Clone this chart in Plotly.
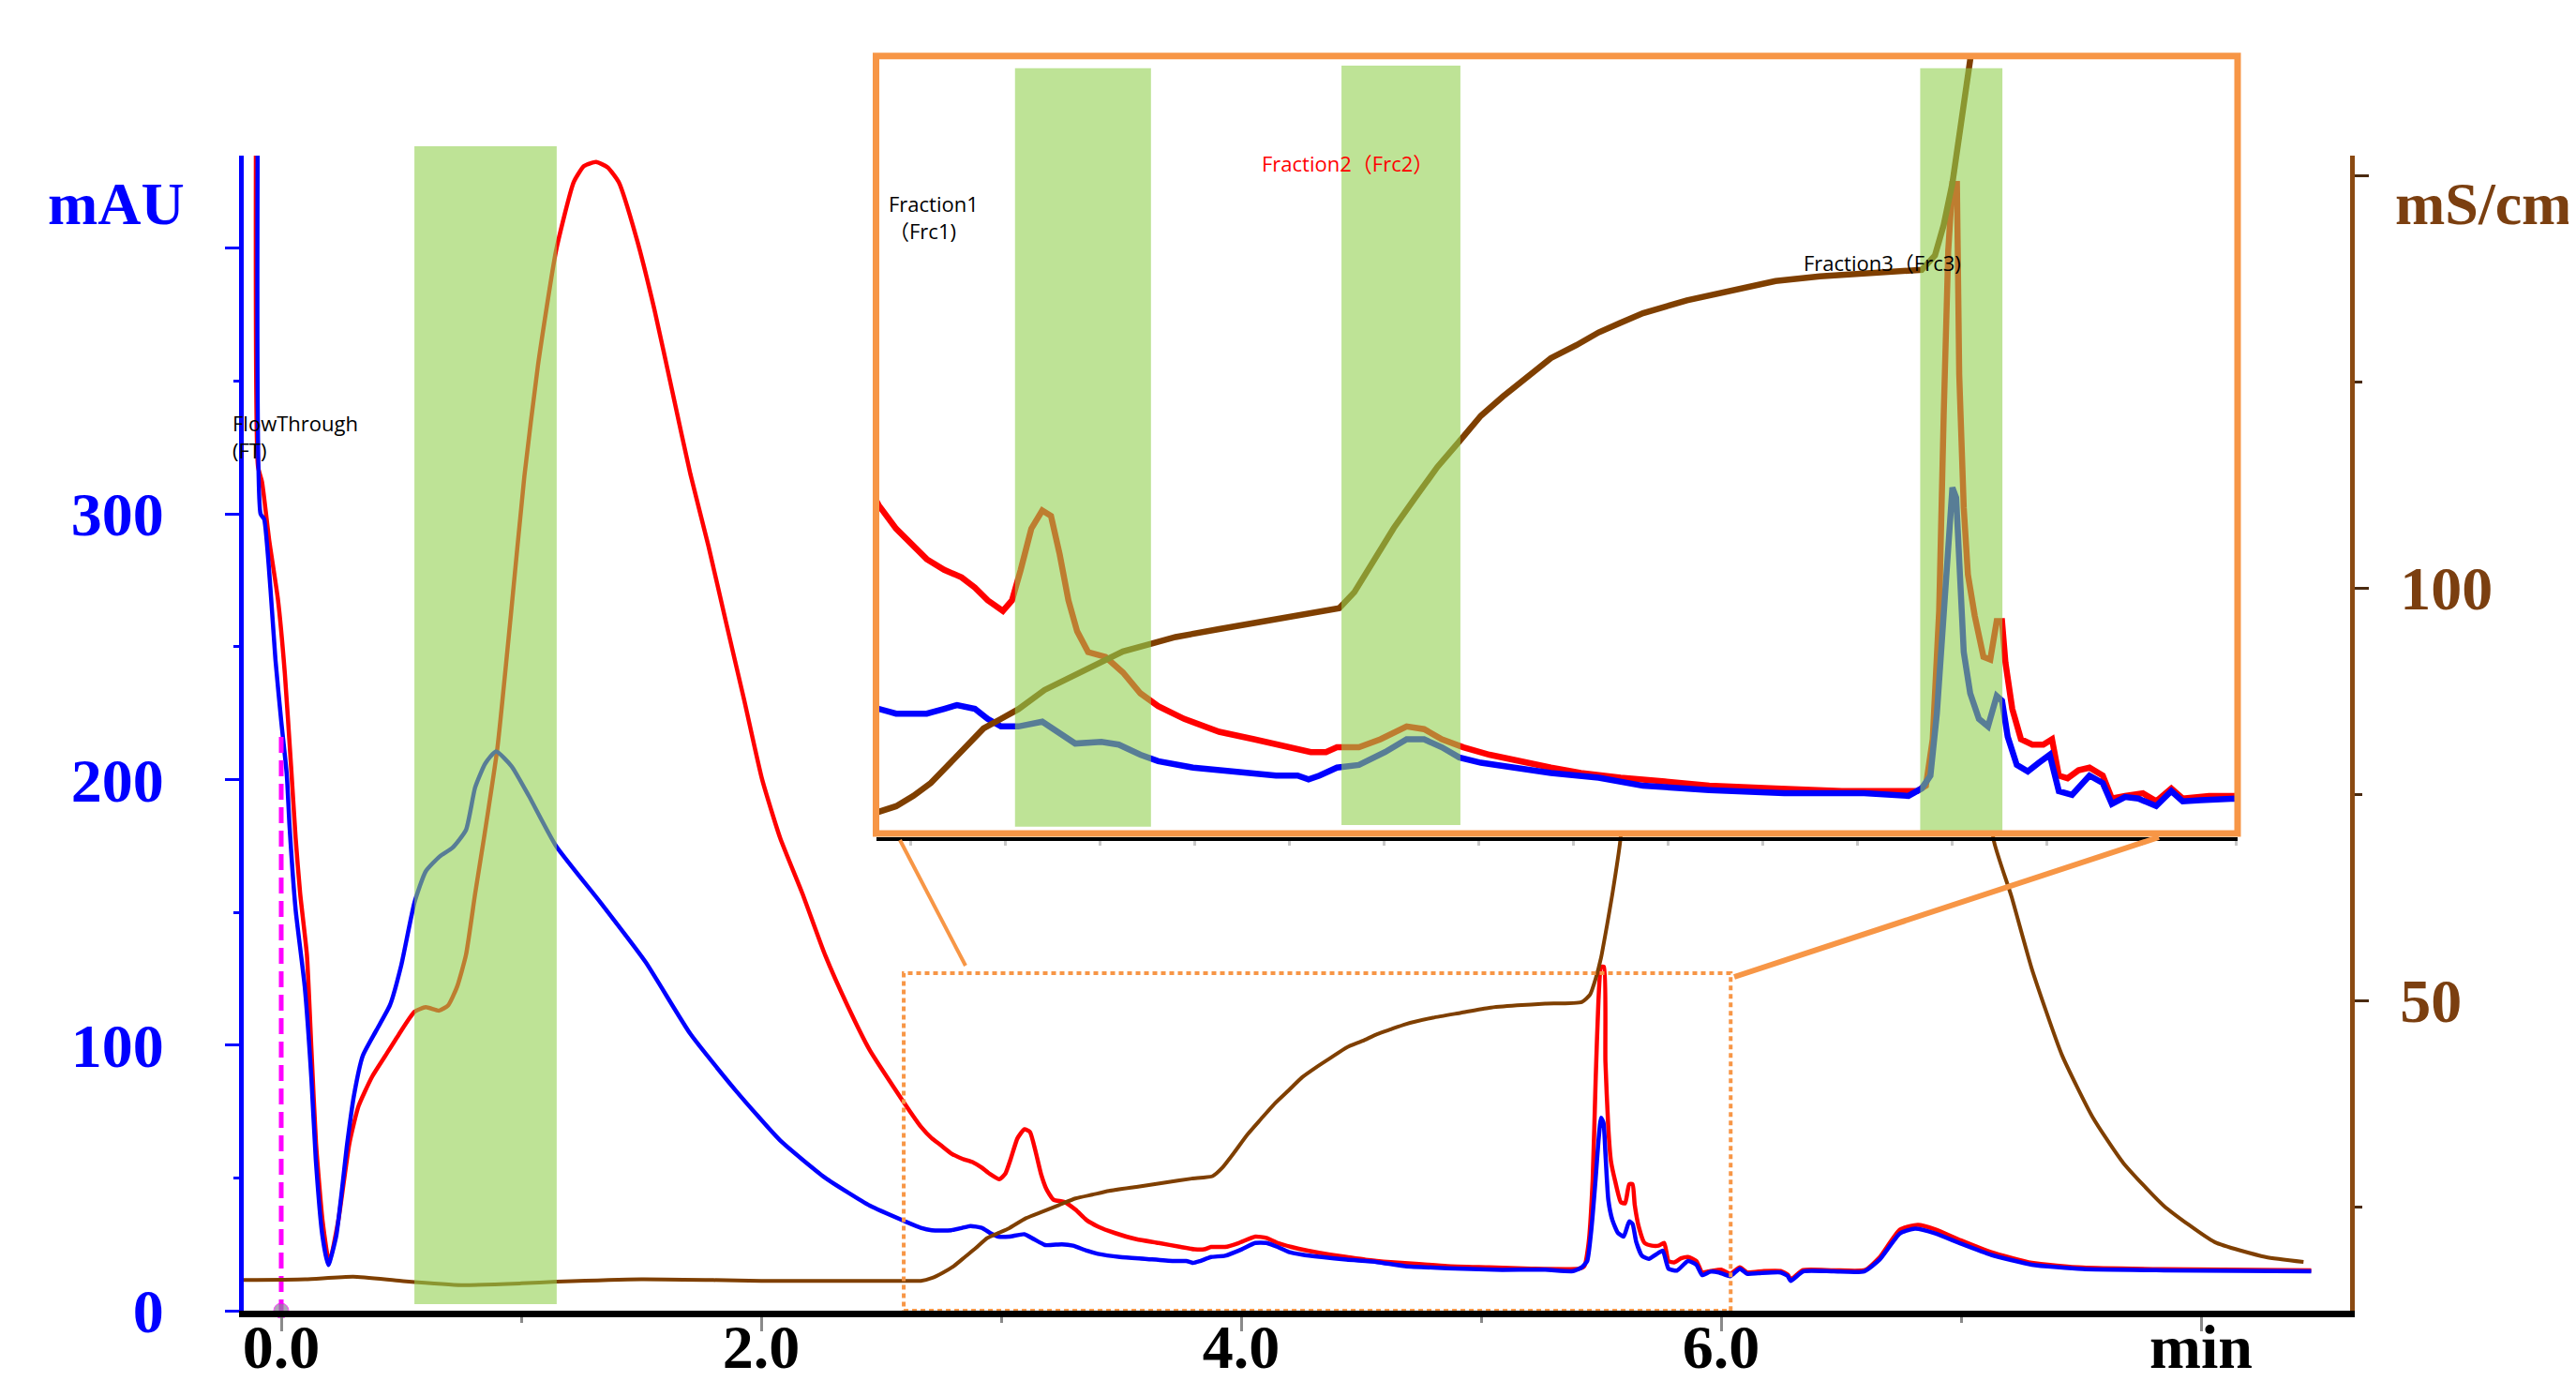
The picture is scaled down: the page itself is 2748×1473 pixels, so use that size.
import plotly.graph_objects as go

# ---------------- data (minutes, mAU, mS/cm) ----------------
red_t = [-0.099, -0.097, -0.080, -0.050, -0.014, 0.015, 0.041, 0.060, 0.079, 0.107, 0.126, 0.145, 0.172, 0.200,
         0.238, 0.284, 0.322, 0.378, 0.434, 0.490, 0.555, 0.602, 0.658, 0.696, 0.733, 0.770, 0.808, 0.845, 0.901,
         0.957, 1.013, 1.070, 1.145, 1.219, 1.262, 1.312, 1.360, 1.406, 1.480, 1.555, 1.630, 1.705, 1.780, 1.854,
         1.929, 2.004, 2.079, 2.172, 2.266, 2.359, 2.453, 2.546, 2.620,
         2.665, 2.711, 2.746, 2.792, 2.838, 2.884, 2.919, 2.953, 2.993, 3.017, 3.040, 3.068, 3.097, 3.120, 3.143,
         3.166, 3.189, 3.218, 3.264, 3.310, 3.356, 3.403, 3.472, 3.564, 3.656, 3.748, 3.806, 3.846, 3.875, 3.933,
         3.990, 4.059, 4.105, 4.152, 4.209, 4.278, 4.371, 4.440, 4.519, 4.624, 4.741, 4.858, 5.033, 5.208, 5.407,
         5.430, 5.448, 5.465, 5.477, 5.489, 5.500, 5.512, 5.518, 5.530, 5.541, 5.559, 5.582, 5.600, 5.617, 5.631,
         5.640, 5.658, 5.681, 5.711, 5.740, 5.763, 5.781, 5.804, 5.833, 5.862, 5.897, 5.921, 5.956, 6.003, 6.038,
         6.078, 6.108, 6.178, 6.248,
         6.278, 6.290, 6.342, 6.469, 6.600, 6.660, 6.745, 6.820, 6.893, 6.998, 7.126, 7.295, 7.507, 7.845, 8.459]
red_v = [600, 318, 312, 290, 268, 240, 205, 178, 157, 134, 98, 63, 34, 18,
         34, 63, 77, 88, 96, 104, 112.5, 114.3, 113, 115, 122, 134, 157, 178, 212,
         262, 314, 356, 399, 425, 431, 432.5, 430.5, 425, 404, 377, 346, 315, 288, 259,
         230, 200, 178, 157, 134, 115, 98, 85, 75,
         69.3, 64.9, 62.5, 59.2, 57.2, 55.8, 53.9, 51.5, 49.5, 51.5, 57.2, 64.9, 68.3, 67.3, 60.1,
         51.5, 45.7, 41.8, 40.9, 38.0, 34.1, 31.7, 29.3, 26.9, 25.5, 24.0, 23.1, 23.1, 24.0, 24.0,
         25.5, 27.9, 27.4, 25.5, 24.0, 22.6, 21.1, 20.2, 19.2, 18.3, 17.6, 16.8, 16.3, 15.8, 15.8,
         16.8, 25.5, 49.5, 86.1, 116.9, 129.4, 129.4, 93.8, 68.8, 56.3, 48.6, 40.9, 40.4, 47.6, 47.6,
         39.9, 31.2, 25.5, 24.5, 24.5, 25.5, 18.7, 18.2, 19.7, 20.2, 18.7, 14.4, 14.9, 15.4, 13.9,
         16.3, 14.4, 14.9, 14.9,
         13.5, 11.8, 15.3, 15.2, 15.3, 20.0, 30.5, 32.3, 30.6, 26.5, 22.0, 18.0, 16.2, 15.6, 15.2]

blue_t = [-0.088, -0.086, -0.071, -0.045, -0.024, 0.000, 0.023, 0.035, 0.060, 0.098, 0.126, 0.144, 0.172, 0.196,
          0.229, 0.275, 0.303, 0.340, 0.396, 0.453, 0.500, 0.555, 0.602, 0.660, 0.714, 0.770, 0.808, 0.850, 0.895,
          0.960, 1.032, 1.145, 1.331, 1.518, 1.705, 1.892, 2.078, 2.266, 2.453, 2.600,
          2.665, 2.711, 2.792, 2.838, 2.872, 2.919, 2.953, 2.988, 3.034, 3.097, 3.137, 3.184, 3.253, 3.299, 3.356,
          3.403, 3.495, 3.599, 3.714, 3.771, 3.800, 3.829, 3.875, 3.933, 4.002, 4.059, 4.105, 4.152, 4.198, 4.255,
          4.336, 4.440, 4.566, 4.683, 4.858, 5.056, 5.267, 5.384, 5.419, 5.442, 5.459, 5.477, 5.489, 5.500, 5.510,
          5.518, 5.530, 5.547, 5.570, 5.594, 5.617, 5.631, 5.646, 5.670, 5.699, 5.728, 5.757, 5.781, 5.816, 5.862,
          5.897, 5.921, 5.956, 5.991, 6.038, 6.078, 6.108, 6.155, 6.248,
          6.278, 6.290, 6.342, 6.469, 6.596, 6.660, 6.745, 6.808, 6.893, 6.998, 7.126, 7.295, 7.507, 7.845, 8.459]
blue_v = [600, 300, 298, 272, 245, 222, 202, 182, 151, 122, 87, 57, 28, 17.2,
          28, 63, 81, 96, 105.5, 115, 130, 153.6, 165.4, 171, 174.3, 181, 197, 206, 210.6,
          205, 193.8, 175, 153.6, 131.3, 104.2, 83.1, 64.2, 50.1, 39.5, 33.6,
          31.2, 30.3, 30.3, 31.2, 31.9, 31.2, 29.3, 27.9, 27.9, 28.8, 26.9, 24.7, 25.0, 24.5, 22.6,
          21.4, 20.2, 19.5, 18.7, 18.7, 18.0, 18.7, 20.2, 20.7, 23.1, 25.5, 25.5, 24.0, 22.1, 21.1,
          20.2, 19.2, 18.3, 16.8, 16.0, 15.4, 15.4, 14.9, 16.3, 18.7, 30.3, 49.5, 64.0, 72.6, 70.7,
          59.2, 41.8, 34.1, 29.3, 27.9, 33.6, 32.7, 26.0, 20.7, 19.5, 21.1, 22.6, 15.8, 15.1, 18.7,
          17.3, 13.4, 14.7, 14.4, 13.0, 15.8, 13.9, 14.1, 14.4,
          13.0, 11.2, 14.8, 14.8, 14.8, 19.2, 29.1, 30.9, 29.1, 25.3, 21.0, 17.3, 15.7, 15.2, 14.8]

cond_t = [-0.160, 0.100, 0.300, 0.500, 0.750, 1.000, 1.150, 1.500, 1.800, 2.000, 2.300, 2.620,
          2.665, 2.711, 2.757, 2.803, 2.849, 2.895, 2.942, 2.988, 3.034, 3.103, 3.172, 3.241, 3.310, 3.380,
          3.449, 3.564, 3.679, 3.794, 3.881, 3.921, 3.967, 4.025, 4.082, 4.140, 4.198, 4.255, 4.313, 4.371,
          4.440, 4.507, 4.566, 4.624, 4.683, 4.799, 4.916, 5.033, 5.150, 5.267, 5.419, 5.454, 5.477, 5.500,
          5.524, 5.547, 5.580, 5.620, 5.700, 5.800, 6.000, 6.500, 6.900, 7.000, 7.080, 7.136, 7.210, 7.295,
          7.420, 7.549, 7.676, 7.845, 8.057, 8.269, 8.427]
cond_v = [16.1, 16.2, 16.5, 16.0, 15.5, 15.7, 15.9, 16.2, 16.1, 16.0, 16.0, 16.0,
          16.0, 16.35, 17.0, 17.8, 18.9, 20.0, 21.2, 21.8, 22.4, 23.6, 24.4, 25.2, 26.0, 26.45,
          26.9, 27.4, 27.9, 28.4, 28.7, 29.7, 31.4, 33.7, 35.6, 37.5, 39.1, 40.7, 41.9, 43.0,
          44.3, 45.1, 45.9, 46.5, 47.1, 47.9, 48.5, 49.1, 49.4, 49.6, 49.8, 50.7, 52.6, 55.2,
          59.0, 62.9, 69.4, 85, 110, 130, 145, 150, 140, 110, 85, 69.4, 62.6, 53.8,
          43.4, 35.8, 30.3, 25.1, 20.7, 18.9, 18.3]

injection_t = [0.0, 0.0]
injection_v = [216, 0]

main_band = (0.555, 1.148)
fraction_bands = [(3.025, 3.384), (3.887, 4.201), (5.415, 5.632)]
zoom_window = (2.594, 6.04, 0, 127.1)

x_tickvals = [0, 2, 4, 6, 8]
x_ticktext = ["0.0", "2.0", "4.0", "6.0", "min"]
uv_tickvals = [0, 100, 200, 300, 400]
uv_ticktext = ["0", "100", "200", "300", ""]
cond_tickvals = [50, 100, 150]
cond_ticktext = ["50", "100", ""]

# ---------------- geometry helpers ----------------
W, H = 2748, 1473
ML, MR, MT, MB = 252, 249, 40, 83
PW = W - ML - MR
PH = H - MT - MB
BOT = H - MB


def px(X):
    return (X - ML) / PW


def py(Y):
    return (BOT - Y) / PH


RED = "#FF0000"
BLUE = "#0000FF"
BROWN = "#7F3F00"
ORANGE = "#F79646"
SERIF = "Liberation Serif"
SANS = "Open Sans, Noto Sans CJK SC, sans-serif"

fig = go.Figure()

# main chart
fig.add_trace(go.Scatter(x=red_t, y=red_v, mode="lines",
                         line=dict(color=RED, width=4.5, shape="spline", smoothing=0.5),
                         xaxis="x", yaxis="y", showlegend=False))
fig.add_trace(go.Scatter(x=blue_t, y=blue_v, mode="lines",
                         line=dict(color=BLUE, width=4.5, shape="spline", smoothing=0.5),
                         xaxis="x", yaxis="y", showlegend=False))
fig.add_trace(go.Scatter(x=injection_t, y=injection_v, mode="lines+markers",
                         line=dict(color="#FF00FF", width=5, dash="17px,8px"),
                         marker=dict(size=[0, 16], color="#8E7F9C"), cliponaxis=False,
                         xaxis="x", yaxis="y", showlegend=False))
fig.add_trace(go.Scatter(x=cond_t, y=cond_v, mode="lines",
                         line=dict(color=BROWN, width=4, shape="spline", smoothing=0.5),
                         xaxis="x", yaxis="y2", showlegend=False))

# inset (same data, magnified)
fig.add_trace(go.Scatter(x=red_t, y=red_v, mode="lines", line=dict(color=RED, width=6.5),
                         xaxis="x2", yaxis="y3", showlegend=False))
fig.add_trace(go.Scatter(x=blue_t, y=blue_v, mode="lines", line=dict(color=BLUE, width=6.5),
                         xaxis="x2", yaxis="y3", showlegend=False))
fig.add_trace(go.Scatter(x=cond_t, y=cond_v, mode="lines", line=dict(color=BROWN, width=6.5),
                         xaxis="x2", yaxis="y4", showlegend=False))

inset_x = (926.5, 2379)
inset_y = (881, 51.7)

fig.update_layout(
    width=W, height=H,
    margin=dict(l=ML, r=MR, t=MT, b=MB, autoexpand=False),
    paper_bgcolor="white", plot_bgcolor="white",
    xaxis=dict(domain=[0, 1], range=[-0.15625, 8.621], anchor="y",
               showline=True, linecolor="black", linewidth=7, showgrid=False, zeroline=False,
               ticks="outside", tickvals=x_tickvals, ticktext=x_ticktext, ticklen=15, tickwidth=3,
               tickcolor="#8a8a8a", ticklabelstandoff=-40,
               tickfont=dict(family=SERIF, size=66, color="black", weight="bold"),
               minor=dict(tickvals=[1, 3, 5, 7], ticks="outside", ticklen=6, tickwidth=3, tickcolor="#8a8a8a")),
    yaxis=dict(domain=[0, py(158)], range=[0, 434.9], anchor="x",
               showline=True, linecolor=BLUE, linewidth=5, showgrid=False, zeroline=False,
               ticks="outside", tickvals=uv_tickvals, ticktext=uv_ticktext, ticklen=15, tickwidth=3,
               tickcolor=BLUE, ticklabelstandoff=52,
               tickfont=dict(family=SERIF, size=66, color=BLUE, weight="bold"),
               minor=dict(tickvals=[50, 150, 250, 350], ticks="outside", ticklen=6, tickwidth=3, tickcolor=BLUE)),
    yaxis2=dict(overlaying="y", side="right", anchor="x", range=[12.39, 152.39],
                showline=True, linecolor="#8B4A12", linewidth=5, showgrid=False, zeroline=False,
                ticks="outside", tickvals=cond_tickvals, ticktext=cond_ticktext, ticklen=15, tickwidth=3,
                tickcolor="#4a2a10", ticklabelstandoff=20,
                tickfont=dict(family=SERIF, size=66, color="#7B3F10", weight="bold"),
                minor=dict(tickvals=[25, 75, 125], ticks="outside", ticklen=8, tickwidth=3, tickcolor="#4a2a10")),
    xaxis2=dict(domain=[px(inset_x[0]), px(inset_x[1])], range=[2.658, 6.253], anchor="free",
                position=py(887), showline=True, linecolor="black", linewidth=4,
                showgrid=False, zeroline=False, ticks="outside", tick0=3.0, dtick=0.25,
                ticklen=5, tickwidth=3, tickcolor="#c8c8c8", showticklabels=False),
    yaxis3=dict(domain=[py(inset_y[0]), py(inset_y[1])], range=[7.87, 153.36], anchor="x2",
                visible=False, showgrid=False, zeroline=False),
    yaxis4=dict(overlaying="y3", anchor="x2", range=[14.65, 63.14],
                visible=False, showgrid=False, zeroline=False),
)

shapes = []
shapes.append(dict(type="rect", xref="x", yref="paper", x0=main_band[0], x1=main_band[1],
                   y0=py(1383), y1=py(148), fillcolor="#92D050", opacity=0.6, line=dict(width=0),
                   layer="above"))
band_y = [(873.8, 64.7), (872, 62), (879.3, 64.7)]
for (a, b), (yb, yt) in zip(fraction_bands, band_y):
    shapes.append(dict(type="rect", xref="x2", yref="paper", x0=a, x1=b, y0=py(yb), y1=py(yt),
                       fillcolor="#92D050", opacity=0.6, line=dict(width=0), layer="above"))
shapes.append(dict(type="rect", xref="paper", yref="paper", x0=px(inset_x[0]), x1=px(inset_x[1]),
                   y0=py(inset_y[0]), y1=py(inset_y[1]), line=dict(color=ORANGE, width=7), layer="above"))
shapes.append(dict(type="rect", xref="x", yref="y", x0=zoom_window[0], x1=zoom_window[1],
                   y0=zoom_window[2], y1=zoom_window[3], line=dict(color=ORANGE, width=4, dash="5px,4px"),
                   layer="above"))
shapes.append(dict(type="line", xref="paper", yref="paper", x0=px(952), y0=py(888), x1=px(1022), y1=py(1022),
                   line=dict(color=ORANGE, width=4), layer="above"))
shapes.append(dict(type="line", xref="paper", yref="paper", x0=px(2295), y0=py(885), x1=px(1842), y1=py(1034),
                   line=dict(color=ORANGE, width=6), layer="above"))
fig.update_layout(shapes=shapes)

ann = []
ann.append(dict(text="mAU", xref="paper", yref="paper", x=px(116), y=py(210), xanchor="center", yanchor="middle",
                showarrow=False, font=dict(family=SERIF, size=64, color=BLUE, weight="bold")))
ann.append(dict(text="mS/cm", xref="paper", yref="paper", x=px(2545), y=py(210), xanchor="left", yanchor="middle",
                showarrow=False, font=dict(family=SERIF, size=64, color="#7B3F10", weight="bold")))
ann.append(dict(text="FlowThrough<br>(FT)", xref="paper", yref="paper", x=px(238), y=py(426), xanchor="left",
                yanchor="top", align="left", showarrow=False, font=dict(family=SANS, size=22, color="black")))
ann.append(dict(text="Fraction1<br>（Frc1)", xref="paper", yref="paper", x=px(938), y=py(192), xanchor="left",
                yanchor="top", align="left", showarrow=False, font=dict(family=SANS, size=22, color="black")))
ann.append(dict(text="Fraction2（Frc2）", xref="paper", yref="paper", x=px(1336), y=py(149), xanchor="left",
                yanchor="top", align="left", showarrow=False, font=dict(family=SANS, size=22, color=RED)))
ann.append(dict(text="Fraction3（Frc3)", xref="paper", yref="paper", x=px(1914), y=py(255), xanchor="left",
                yanchor="top", align="left", showarrow=False, font=dict(family=SANS, size=22, color="black")))
fig.update_layout(annotations=ann)

fig.write_html("out.html")
